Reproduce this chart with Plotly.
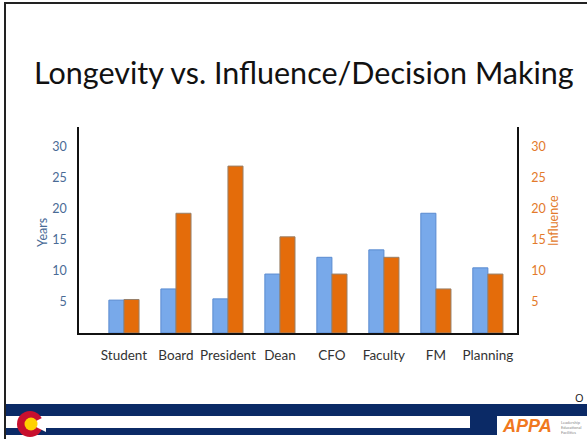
import plotly.graph_objects as go

categories = ["Student", "Board", "President", "Dean", "CFO", "Faculty", "FM", "Planning"]
years = [5.3, 7.1, 5.5, 9.5, 12.2, 13.4, 19.3, 10.5]
influence = [5.4, 19.3, 26.9, 15.5, 9.5, 12.2, 7.1, 9.5]
tick_vals = [5, 10, 15, 20, 25, 30]

W, H = 587, 439
L, R, T, B = 79, 70, 127, 106
PW, PH = W - L - R, H - T - B


def px(x):
    return (x - L) / PW


def py(y):
    return (H - B - y) / PH


FONT = "Lato"
fig = go.Figure()
fig.add_trace(go.Bar(
    x=list(range(len(categories))), y=years, name="Years",
    width=0.29, offset=-0.29,
    marker=dict(color="#78a9ea", line=dict(color="#5a8bd0", width=1)),
    yaxis="y",
))
fig.add_trace(go.Bar(
    x=list(range(len(categories))), y=influence, name="Influence",
    width=0.29, offset=0.0,
    marker=dict(color="#e46c0a", line=dict(color="#98806a", width=1)),
    yaxis="y2",
))

fig.update_layout(
    width=W, height=H,
    margin=dict(l=L, r=R, t=T, b=B, pad=0),
    paper_bgcolor="white", plot_bgcolor="white",
    showlegend=False,
    font=dict(family=FONT, size=13, color="#222222"),
    xaxis=dict(
        range=[-0.865, 7.56],
        tickvals=list(range(len(categories))), ticktext=categories,
        showgrid=False, zeroline=False,
        showline=True, linecolor="#111111", linewidth=1.5,
        ticks="", tickfont=dict(family=FONT, size=13.5, color="#333333"),
        ticklabelstandoff=9,
    ),
    yaxis=dict(
        range=[0, 33.2], tickvals=tick_vals,
        showgrid=False, zeroline=False,
        showline=True, linecolor="#111111", linewidth=1.5,
        ticks="", tickfont=dict(family=FONT, size=12.5, color="#4a6b96"),
        ticklabelstandoff=8,
    ),
    yaxis2=dict(
        range=[0, 33.2], tickvals=tick_vals, overlaying="y", side="right",
        showgrid=False, zeroline=False,
        showline=True, linecolor="#111111", linewidth=1.5,
        ticks="", tickfont=dict(family=FONT, size=12.5, color="#e37a2b"),
        ticklabelstandoff=10,
    ),
)

annotations = [
    dict(text="Longevity vs. Influence/Decision Making", x=px(304), y=py(72),
         font=dict(family=FONT, size=30.5, color="#111111")),
    dict(text="Years", x=px(42), y=py(233), textangle=-90,
         font=dict(family=FONT, size=12.5, color="#4a6b96")),
    dict(text="Influence", x=px(553), y=py(221), textangle=-90,
         font=dict(family=FONT, size=12.5, color="#e37a2b")),
    dict(text="O", x=px(579), y=py(397), font=dict(family="Open Sans", size=11, color="#111111")),
    dict(text="<b><i>APPA</i></b>", x=px(527), y=py(426),
         font=dict(family="Liberation Sans", size=18, color="#f07820")),
    dict(text="Leadership<br>Educational<br>Facilities", x=px(571), y=py(427), align="left",
         font=dict(family=FONT, size=4, color="#888888")),
]
for a in annotations:
    a.update(xref="paper", yref="paper", showarrow=False, xanchor="center", yanchor="middle")
fig.update_layout(annotations=annotations)


def rect(x0, y0, x1, y1, color):
    return dict(type="rect", xref="paper", yref="paper", x0=px(x0), x1=px(x1),
                y0=py(y0), y1=py(y1), fillcolor=color, line=dict(width=0), layer="above")


def circle(cx, cy, r, color):
    return dict(type="circle", xref="paper", yref="paper", x0=px(cx - r), x1=px(cx + r),
                y0=py(cy + r), y1=py(cy - r), fillcolor=color, line=dict(width=0), layer="above")


navy = "#0b2a66"
shapes = [
    rect(5, 404, W + 2, 416, navy),
    rect(5, 416, 470, 428, "white"),
    rect(5, 428, 497, 435, navy),
    rect(470, 416, 497, 428, navy),
    rect(497, 416, W + 2, 440, "white"),
    circle(30, 424, 13, "#c8102e"),
    dict(type="path", xref="paper", yref="paper", layer="above",
         path=f"M {px(30)},{py(424)} L {px(46)},{py(416)} L {px(46)},{py(432)} Z",
         fillcolor="white", line=dict(width=0)),
    circle(31, 424, 6.5, "#ffd100"),
    dict(type="line", xref="paper", yref="paper", x0=px(5), x1=px(5), y0=py(3), y1=py(440),
         line=dict(color="#222222", width=2), layer="above"),
    dict(type="line", xref="paper", yref="paper", x0=px(4), x1=px(W + 2), y0=py(3), y1=py(3),
         line=dict(color="#222222", width=2), layer="above"),
]
fig.update_layout(shapes=shapes)

fig.write_html("out.html", config={"displayModeBar": False},
               post_script="document.body.style.margin='0px';")
